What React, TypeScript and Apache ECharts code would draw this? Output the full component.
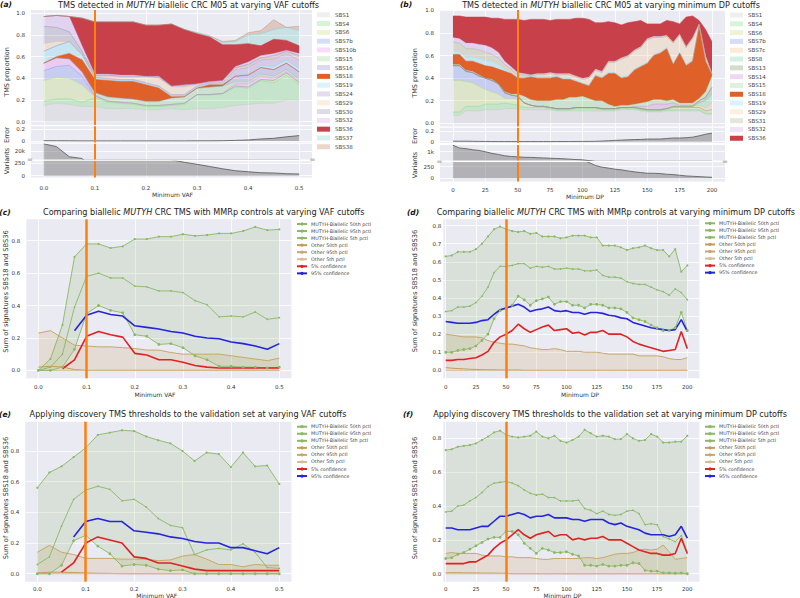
import React, { useEffect, useRef } from 'react';
import * as echarts from 'echarts';

// ---------------- data ----------------
const VAF = [0, 0.025, 0.05, 0.075, 0.1, 0.125, 0.15, 0.175, 0.2, 0.225, 0.25, 0.275, 0.3, 0.325, 0.35, 0.375, 0.4, 0.425, 0.45, 0.475, 0.5];
const DP = [0, 5, 10, 15, 20, 25, 30, 35, 40, 45, 50, 55, 60, 65, 70, 75, 80, 85, 90, 95, 100, 105, 110, 115, 120, 125, 130, 135, 140, 145, 150, 155, 160, 165, 170, 175, 180, 185, 190, 195, 200];
const CUTOFF_VAF = 0.1;
const CUTOFF_DP = 50;

// Panel (a) stacked signature proportions (VAF cutoffs)
const A_SBS1 = [.15, .17, .16, .14, .14, .12, .12, .12, .11, .11, .12, .11, .12, .12, .13, .15, .16, .17, .17, .20, .20];
const A_SBS4 = [.04, .04, .05, .04, .08, .06, .05, .04, .03, .03, .03, .05, .13, .13, .13, .17, .15, .21, .19, .23, .14];
const A_SBS6 = [.19, .20, .19, .16, .01, .01, .01, .01, .01, .01, .01, .01, 0, 0, 0, .01, .01, .01, .02, .02, .02];
const A_SBS7b = [.09, .10, .12, .08, .01, 0, 0, 0, 0, 0, 0, 0, 0, 0, 0, 0, 0, 0, 0, 0, 0];
const A_SBS10b = [.07, .08, .06, .04, .01, 0, 0, 0, 0, 0, 0, 0, 0, 0, 0, .02, .03, .03, .02, .01, .01];
const A_SBS15 = [0, 0, 0, 0, .02, .04, .04, .04, .04, .04, .06, .06, .06, .07, .07, .02, .02, .02, .02, .02, .02];
const A_SBS16 = [0, 0, 0, 0, 0, 0, 0, 0, 0, 0, 0, 0, 0, 0, 0, .05, .06, .06, .06, .06, .07];
const A_SBS18 = [0, .01, .05, .11, .12, .15, .15, .16, .15, .12, .01, 0, 0, .02, .01, 0, 0, 0, 0, 0, 0];
const A_SBS19 = [.11, .10, .11, .05, .01, .01, .01, .01, .01, .01, .01, .01, .01, .01, .01, .01, .01, .02, .03, .03, .03];
const A_SBS24 = [0, 0, 0, 0, .01, .01, .01, .01, .01, .01, .01, .01, .01, .01, .01, .05, .06, .05, .07, .06, .08];
const A_SBS29 = [.07, .04, 0, 0, .01, .02, .02, .02, .05, .07, .07, .07, .01, .01, .01, .01, .01, .01, .01, .01, .02];
const A_SBS30 = [.16, .13, .09, .03, .01, .01, .01, .01, .01, .01, .01, .02, .01, 0, .01, .01, .02, .01, .02, .01, .02];
const A_SBS32 = [.09, .11, .14, .05, .01, .01, .01, .01, 0, .01, 0, 0, 0, 0, 0, .01, .02, .02, .02, .01, .02];
const A_SBS36 = [0, 0, 0, .255, .48, .48, .49, .49, .47, .47, .57, .51, .46, .41, .33, .20, .17, .09, .13, .09, .07];
const A_SBS37 = [0, 0, 0, 0, 0, 0, 0, 0, 0, 0, 0, 0, .01, .01, .02, .03, .08, .11, .09, .12, .14];
const A_SBS38 = [0, 0, 0, 0, 0, 0, 0, 0, 0, 0, 0, 0, 0, 0, .01, .01, .02, .03, .09, 0, .04];
const A_ERROR = [.005, .004, .003, .002, .002, .002, .002, .002, .002, .002, .002, .002, .003, .003, .005, .01, .017, .034, .045, .07, .09];
const A_VARIANTS = [26000, 23550, 14850, 13350, 2000, 1500, 1200, 1000, 800, 600, 320, 270, 230, 185, 140, 100, 80, 60, 55, 40, 35];

// Panel (b) stacked signature proportions (DP cutoffs)
const B_SBS1 = [.07, .07, .11, .11, .11, .12, .12, .12, .13, .13, .13, .12, .12, .12, .12, .12, .11, .11, .11, .11, .11, .11, .11, .11, .11, .11, .12, .12, .12, .11, .10, .10, .10, .11, .11, .11, .11, .11, .11, .08, .08];
const B_SBS4 = [.03, .03, .04, .04, .04, .05, .05, .05, .05, .04, .03, .02, .02, .02, .02, .01, .01, .01, .01, .02, .02, .02, .02, .01, .01, .01, .01, .01, .01, .01, .01, .01, .01, .01, .01, .01, .01, .01, .01, .01, .01];
const B_SBS6 = [.28, .28, .22, .21, .18, .13, .11, .09, .04, .05, .06, .04, .02, .01, .01, .01, .01, .01, .01, .01, .01, .01, .01, .01, .01, .01, .01, .01, .01, .01, .01, .01, .01, .01, .02, .02, .02, .02, .02, .02, .03];
const B_SBS7b = [.13, .13, .09, .09, .09, .10, .10, .09, .05, .03, .02, 0, 0, 0, 0, 0, 0, 0, 0, 0, 0, 0, 0, 0, 0, 0, 0, 0, 0, 0, 0, 0, 0, 0, 0, 0, 0, 0, 0, 0, 0];
const B_SBS7c = [0, 0, 0, 0, 0, 0, 0, 0, 0, 0, 0, 0, 0, 0, 0, 0, 0, 0, 0, 0, 0, 0, 0, 0, 0, 0, 0, 0, 0, 0, 0, 0, 0, 0, .01, .01, .01, .01, .02, .03, .06];
const B_SBS8 = [0, 0, 0, 0, 0, 0, 0, 0, 0, 0, 0, 0, 0, 0, 0, 0, 0, 0, 0, 0, 0, 0, 0, 0, 0, 0, 0, 0, 0, 0, 0, 0, 0, 0, 0, 0, 0, 0, .02, .06, .08];
const B_SBS13 = [0, 0, 0, 0, 0, 0, 0, 0, 0, 0, 0, 0, 0, 0, 0, 0, 0, 0, 0, 0, 0, 0, 0, 0, 0, 0, 0, 0, 0, 0, 0, 0, 0, 0, 0, 0, 0, 0, .02, .03, .06];
const B_SBS14 = [0, 0, 0, 0, 0, 0, 0, 0, 0, 0, 0, 0, 0, 0, 0, 0, 0, 0, 0, 0, 0, 0, 0, 0, 0, 0, 0, 0, .01, .02, .03, .05, .05, .04, .03, .01, .01, .01, 0, 0, 0];
const B_SBS15 = [.01, .01, .01, .01, .01, 0, .01, 0, .01, .01, .02, .06, .05, .05, .05, .06, .08, .08, .10, .09, .10, .08, .06, .07, .04, .02, .02, .02, .02, .03, .04, .04, .04, .03, .03, .02, .02, .02, .02, .05, .10];
const B_SBS18 = [.09, .09, .08, .09, .10, .11, .11, .13, .18, .18, .14, .16, .20, .20, .20, .20, .20, .18, .16, .14, .11, .11, .22, .20, .27, .29, .24, .25, .30, .32, .34, .39, .41, .46, .31, .44, .33, .37, .64, .27, .01];
const B_SBS19 = [.03, .03, .04, .04, .05, .05, .05, .04, .02, .01, .01, .01, .01, .01, .01, .01, .01, .01, .01, .01, .01, .01, .01, .01, .01, .01, .01, .01, .01, .01, .01, .01, .01, .01, .01, .01, .01, .01, 0, .01, 0];
const B_SBS29 = [.01, .01, .01, .01, .01, .01, .01, .01, .01, .01, .01, .01, 0, .02, .02, .03, .01, .03, .03, .03, .03, .06, .04, .04, .09, .09, .16, .17, .16, .16, .20, .15, .13, .10, .18, .15, .15, .19, .02, .03, .01];
const B_SBS31 = [.07, .06, .06, .06, .06, .06, .05, .05, .03, .02, .01, .01, 0, 0, 0, 0, 0, 0, 0, 0, 0, 0, 0, 0, 0, 0, 0, 0, 0, 0, 0, 0, 0, 0, 0, 0, 0, 0, 0, 0, 0];
const B_SBS32 = [.04, .04, .05, .05, .05, .06, .06, .05, .03, .02, .02, .01, .01, .01, .01, .01, .01, .01, .01, .01, .01, .01, .01, .01, .01, .01, .01, .01, .01, .01, .01, .01, .01, .01, .01, .01, .01, .01, 0, .01, 0];
const B_SBS36 = [.19, .20, .23, .23, .24, .25, .26, .30, .37, .42, .47, .47, .49, .48, .48, .46, .48, .48, .48, .51, .53, .51, .41, .43, .35, .34, .29, .29, .25, .23, .13, .11, .11, .13, .18, .09, .26, .19, .03, .23, .28];
const B_ERROR = [.01, .01, .01, .008, .006, .005, .004, .003, .003, .003, .003, .003, .003, .003, .003, .003, .004, .004, .004, .005, .005, .006, .008, .012, .018, .025, .03, .035, .04, .042, .05, .05, .05, .06, .07, .07, .075, .085, .11, .14, .16];
const B_VARIANTS = [1480, 1280, 1230, 1150, 1100, 1000, 880, 800, 700, 650, 620, 590, 580, 560, 540, 520, 500, 480, 450, 420, 400, 340, 277, 240, 220, 197, 182, 160, 139, 124, 109, 109, 102, 88, 80, 66, 51, 44, 36, 29, 22];

// Panel (c)
const C_M50 = [0, 0.02, 0.10, 0.39, 0.58, 0.60, 0.57, 0.57, 0.52, 0.515, 0.49, 0.49, 0.48, 0.43, 0.405, 0.33, 0.335, 0.33, 0.36, 0.315, 0.325];
const C_M95 = [0, 0.07, 0.28, 0.70, 0.78, 0.78, 0.755, 0.765, 0.81, 0.81, 0.825, 0.825, 0.84, 0.83, 0.835, 0.845, 0.845, 0.86, 0.885, 0.865, 0.87];
const C_M5 = [0, 0, 0.02, 0.13, 0.35, 0.40, 0.37, 0.355, 0.22, 0.21, 0.16, 0.165, 0.14, 0.09, 0.065, 0.025, 0.025, 0.02, 0.02, 0.015, 0.02];
const C_O50 = [0.02, 0.025, 0.02, 0.005, 0, 0, 0, 0, 0, 0, 0, 0, 0, 0, 0, 0, 0, 0, 0, 0, 0];
const C_O95 = [0.23, 0.245, 0.2, 0.155, 0.15, 0.145, 0.145, 0.14, 0.135, 0.125, 0.125, 0.11, 0.1, 0.1, 0.1, 0.1, 0.09, 0.08, 0.07, 0.06, 0.075];
const C_O5 = [0, 0, 0, 0, 0, 0, 0, 0, 0, 0, 0, 0, 0, 0, 0, 0, 0, 0, 0, 0, 0];
const C_CONF5 = [null, null, 0.01, 0.065, 0.21, 0.24, 0.22, 0.205, 0.105, 0.095, 0.065, 0.065, 0.05, 0.03, 0.02, 0.015, 0.015, 0.015, 0.015, 0.015, 0.015];
const C_CONF95 = [null, null, null, 0.245, 0.34, 0.365, 0.345, 0.335, 0.275, 0.265, 0.255, 0.24, 0.23, 0.21, 0.2, 0.195, 0.175, 0.165, 0.15, 0.13, 0.165];

// Panel (d)
const D_M50 = [.325, .33, .35, .35, .355, .375, .41, .46, .54, .575, .575, .58, .59, .59, .565, .575, .57, .575, .56, .56, .565, .56, .56, .55, .55, .555, .525, .515, .515, .51, .49, .48, .475, .475, .46, .445, .435, .415, .45, .43, .39];
const D_M95 = [.63, .635, .655, .655, .655, .67, .70, .74, .78, .795, .78, .77, .765, .77, .755, .76, .74, .74, .74, .73, .735, .745, .745, .745, .735, .735, .69, .69, .69, .68, .665, .675, .68, .69, .675, .665, .665, .63, .67, .545, .58];
const D_M5 = [.10, .10, .11, .115, .12, .135, .165, .20, .285, .33, .34, .36, .41, .39, .36, .385, .395, .405, .365, .38, .38, .36, .36, .345, .365, .365, .36, .345, .345, .34, .32, .29, .28, .27, .25, .235, .22, .22, .235, .32, .22];
const D_O50 = [.015, .012, .01, .008, .006, .005, .004, .003, .003, .002, .002, .002, .002, 0, 0, 0, 0, 0, 0, 0, 0, 0, 0, 0, 0, 0, 0, 0, 0, 0, 0, 0, 0, 0, 0, 0, 0, 0, 0, 0, 0];
const D_O95 = [.20, .195, .19, .185, .185, .185, .18, .165, .155, .15, .145, .145, .14, .135, .125, .12, .115, .115, .12, .115, .105, .105, .105, .10, .10, .10, .095, .09, .09, .09, .09, .09, .08, .08, .08, .08, .075, .065, .06, .06, .07];
const D_O5 = [0, 0, 0, 0, 0, 0, 0, 0, 0, 0, 0, 0, 0, 0, 0, 0, 0, 0, 0, 0, 0, 0, 0, 0, 0, 0, 0, 0, 0, 0, 0, 0, 0, 0, 0, 0, 0, 0, 0, 0, 0];
const D_CONF5 = [.055, .055, .06, .06, .065, .07, .085, .105, .155, .185, .20, .22, .255, .23, .21, .225, .24, .25, .22, .225, .23, .205, .21, .195, .21, .21, .22, .20, .20, .20, .185, .16, .145, .135, .125, .115, .105, .11, .115, .215, .12];
const D_CONF95 = [.27, .265, .26, .26, .26, .265, .275, .28, .31, .335, .345, .355, .365, .35, .325, .335, .34, .35, .33, .325, .33, .32, .32, .31, .32, .32, .315, .305, .30, .29, .285, .265, .255, .245, .235, .23, .225, .22, .225, .28, .215];

// Panel (e)
const E_M50 = [.06, .11, .31, .485, .545, .57, .55, .475, .485, .435, .36, .315, .30, .125, .155, .165, .155, .195, .14, .04, .035];
const E_M95 = [.56, .66, .70, .76, .82, .905, .92, .935, .93, .895, .87, .85, .80, .735, .79, .78, .695, .79, .70, .705, .585];
const E_M5 = [0, 0, .055, .215, .25, .18, .13, .05, .06, .055, .03, .02, .025, 0, 0, 0, 0, 0, 0, 0, 0];
const E_O50 = [.005, .01, .01, .008, .005, .003, .002, 0, 0, 0, 0, 0, 0, 0, 0, 0, 0, 0, 0, 0, 0];
const E_O95 = [.14, .185, .14, .125, .10, .10, .10, .095, .095, .095, .085, .09, .115, .125, .095, .06, .06, .045, .06, .055, .055];
const E_O5 = [0, 0, 0, 0, 0, 0, 0, 0, 0, 0, 0, 0, 0, 0, 0, 0, 0, 0, 0, 0, 0];
const E_CONF5 = [null, null, .01, .07, .20, .24, .22, .20, .11, .10, .07, .07, .05, .03, .02, .02, .02, .02, .02, .02, .02];
const E_CONF95 = [null, null, null, .24, .34, .36, .34, .34, .28, .27, .26, .24, .23, .21, .2, .2, .17, .17, .15, .13, .17];

// Panel (f)
const F_M50 = [.365, .37, .40, .405, .43, .45, .48, .515, .535, .54, .545, .535, .52, .495, .475, .465, .47, .45, .45, .43, .43, .43, .435, .385, .375, .355, .37, .35, .345, .35, .37, .375, .355, .29, .295, .29, .22, .205, .19, .225, .12];
const F_M95 = [.73, .735, .75, .755, .76, .77, .79, .81, .835, .845, .82, .81, .805, .81, .815, .84, .81, .80, .815, .785, .775, .79, .81, .85, .83, .81, .815, .81, .795, .795, .825, .80, .785, .79, .825, .81, .775, .775, .78, .78, .815];
const F_M5 = [.09, .095, .115, .125, .145, .165, .185, .205, .215, .215, .25, .25, .23, .18, .15, .12, .15, .14, .125, .125, .13, .115, .105, .05, .05, .045, .055, .045, .045, .05, .05, .065, .06, .02, .015, .015, .005, .005, .003, .005, 0];
const F_O50 = [.005, .006, .006, .005, .005, .005, .004, .004, .004, .003, .003, 0, 0, 0, 0, 0, 0, 0, 0, 0, 0, 0, 0, 0, 0, 0, 0, 0, 0, 0, 0, 0, 0, 0, 0, 0, 0, 0, 0, 0, 0];
const F_O95 = [.12, .125, .12, .12, .12, .12, .11, .105, .105, .105, .10, .10, .095, .095, .095, .09, .085, .085, .09, .09, .09, .09, .09, .095, .095, .09, .095, .105, .115, .12, .12, .125, .14, .145, .14, .145, .17, .13, .085, .09, .095];
const F_O5 = [0, 0, 0, 0, 0, 0, 0, 0, 0, 0, 0, 0, 0, 0, 0, 0, 0, 0, 0, 0, 0, 0, 0, 0, 0, 0, 0, 0, 0, 0, 0, 0, 0, 0, 0, 0, 0, 0, 0, 0, 0];
const F_CONF5 = [.06, .06, .06, .06, .07, .07, .09, .11, .15, .18, .20, .23, .26, .23, .21, .23, .24, .25, .22, .23, .23, .20, .21, .20, .21, .21, .22, .20, .20, .20, .18, .16, .14, .13, .12, .12, .11, .11, .12, .21, .12];
const F_CONF95 = [.27, .27, .26, .26, .26, .27, .28, .28, .31, .34, .34, .35, .36, .35, .33, .34, .34, .35, .33, .33, .33, .32, .32, .31, .32, .32, .32, .30, .29, .30, .28, .27, .26, .24, .23, .23, .23, .22, .23, .28, .21];

// tick labels
const TICKS_PROP = [0, 0.2, 0.4, 0.6, 0.8, 1.0];
const TICKS_ERR = [0, 0.2];
const TICKS_VAR_A_UP = [20000];
const TICKS_VAR_B_UP = [1000];
const TICKS_VAR_LOW = [0, 250];
const TICKS_VAF = [0, 0.1, 0.2, 0.3, 0.4, 0.5];
const TICKS_DP = [0, 25, 50, 75, 100, 125, 150, 175, 200];
const TICKS_SUM = [0, 0.2, 0.4, 0.6, 0.8];
const TICKS_SUM_D = [0, 0.1, 0.2, 0.3, 0.4, 0.5, 0.6, 0.7, 0.8];

const LEGEND_LINES = ['MUTYH-Biallelic 50th pctl', 'MUTYH-Biallelic 95th pctl', 'MUTYH-Biallelic 5th pctl', 'Other 50th pctl', 'Other 95th pctl', 'Other 5th pctl', '5% confidence', '95% confidence'];

// ---------------- styles ----------------
const F = 'DejaVu Sans';
const TXT = '#333333';
const BG = '#EAEAF2';
const ORANGE = '#ff7f0e';
const GREEN = '#8ab864';
const RED = '#e02222';
const BLUE = '#2424dc';

const SIG_BASE: Record<string, [string, number]> = {
  SBS1: ['#c0c0c0', 0.25], SBS4: ['#5ad25a', 0.25], SBS6: ['#b4d250', 0.25], SBS7b: ['#5a78f0', 0.25],
  SBS7c: ['#e6b45a', 0.25], SBS8: ['#50c882', 0.25], SBS10b: ['#f06ee6', 0.25], SBS13: ['#6e8c5a', 0.3],
  SBS14: ['#c864c8', 0.25], SBS15: ['#78c86e', 0.25], SBS16: ['#7864c8', 0.25], SBS18: ['#e0602a', 1],
  SBS19: ['#64d2eb', 0.25], SBS24: ['#966ebe', 0.25], SBS29: ['#f0be82', 0.25], SBS30: ['#786e96', 0.25],
  SBS31: ['#96a064', 0.25], SBS32: ['#c88ce6', 0.25], SBS36: ['#c8404a', 1], SBS37: ['#64c8be', 0.25],
  SBS38: ['#be7850', 0.3],
};

function rgba(hex: string, a: number) {
  const n = parseInt(hex.slice(1), 16);
  return `rgba(${(n >> 16) & 255},${(n >> 8) & 255},${n & 255},${a})`;
}

// data points are stored as [y, x] and mapped with encode so that stacking runs along y
const ENC = { x: 1, y: 0 };
const pairs = (xs: number[], ys: (number | null)[]) =>
  xs.map((x, i) => [ys[i], x]).filter((p) => p[0] !== null);

function valAxis(gridIndex: number, min: number, max: number, ticks: number[], show: boolean, fmt: any, margin: number) {
  return {
    type: 'value', gridIndex, min, max,
    axisLine: { show: false },
    axisTick: { show: false, customValues: ticks },
    axisLabel: { show, customValues: ticks, formatter: fmt, fontSize: 5.5, color: TXT, fontFamily: F, margin },
    splitLine: { show: true, lineStyle: { color: '#ffffff', width: 0.8 } },
  };
}

const f1 = (v: number) => v.toFixed(1);
const fInt = (v: number) => String(Math.round(v));
const fErr = (v: number) => (v === 0 ? '0' : v.toFixed(1));
const fK = (v: number) => Math.round(v / 1000) + 'k';

function stackSeries(gi: number, xs: number[], names: string[], vals: number[][], stack: string) {
  return names.map((name, k) => {
    const [hex, a] = SIG_BASE[name];
    const fill = a >= 1 ? hex : rgba(hex, a);
    return {
      name, type: 'line', xAxisIndex: gi, yAxisIndex: gi, stack, symbol: 'none', silent: true,
      encode: ENC,
      data: pairs(xs, vals[k]),
      lineStyle: { width: 0.6, color: a >= 1 ? hex : rgba(hex, Math.min(1, a * 2)) },
      itemStyle: { color: fill },
      areaStyle: { color: fill, opacity: 1 },
      emphasis: { disabled: true },
    };
  });
}

function greySeries(gi: number, xs: number[], vals: number[], origin: string) {
  return {
    type: 'line', xAxisIndex: gi, yAxisIndex: gi, symbol: 'none', silent: true, clip: true,
    encode: ENC,
    data: pairs(xs, vals),
    lineStyle: { width: 0.8, color: '#555555' },
    areaStyle: { color: 'rgba(100,100,100,0.6)', origin },
    emphasis: { disabled: true },
  };
}

function cutoffSeries(gi: number, cutoff: number, width: number) {
  return {
    type: 'line', xAxisIndex: gi, yAxisIndex: gi, data: [], z: 10, silent: true,
    markLine: {
      silent: true, symbol: ['none', 'none'], label: { show: false }, animation: false,
      lineStyle: { color: ORANGE, width, type: 'solid', opacity: 1 },
      emphasis: { disabled: true },
      data: [{ xAxis: cutoff }],
    },
  };
}

function linePanel(gi: number, xs: number[], m50: number[], m95: number[], m5: number[], o50: number[], o95: number[], o5: number[], c5: (number | null)[], c95: (number | null)[]) {
  const band = (hi: number[], lo: number[]) => hi.map((h, i) => h - lo[i]);
  const base = { type: 'line', xAxisIndex: gi, yAxisIndex: gi, silent: true, encode: ENC, emphasis: { disabled: true } };
  const hidden = { symbol: 'none', lineStyle: { width: 0, opacity: 0 } };
  const ln = (name: string, arr: any[], color: string, width: number, sym: number) => ({
    ...base, name, data: pairs(xs, arr), color,
    lineStyle: { color, width },
    itemStyle: { color },
    symbol: sym > 0 ? 'circle' : 'none', symbolSize: sym, showSymbol: sym > 0,
  });
  return [
    { ...base, ...hidden, stack: 'o' + gi, data: pairs(xs, o5) },
    { ...base, ...hidden, stack: 'o' + gi, data: pairs(xs, band(o95, o5)), areaStyle: { color: 'rgba(201,165,106,0.3)' } },
    { ...base, ...hidden, stack: 'g' + gi, data: pairs(xs, m5) },
    { ...base, ...hidden, stack: 'g' + gi, data: pairs(xs, band(m95, m5)), areaStyle: { color: 'rgba(138,184,100,0.25)' } },
    ln('Other 50th pctl', o50, '#c49b5c', 1, 0),
    ln('Other 95th pctl', o95, '#c9a66b', 1, 0),
    ln('Other 5th pctl', o5, '#d6bb94', 1, 0),
    ln('MUTYH-Biallelic 50th pctl', m50, GREEN, 0.9, 1.6),
    ln('MUTYH-Biallelic 95th pctl', m95, GREEN, 0.9, 2.2),
    ln('MUTYH-Biallelic 5th pctl', m5, GREEN, 0.9, 2.8),
    ln('5% confidence', c5, RED, 1.6, 0),
    ln('95% confidence', c95, BLUE, 1.6, 0),
  ];
}

function txt(x: number, y: number, text: string, size: number, extra: any = {}, rot = 0) {
  return {
    type: 'text', x, y, rotation: rot, silent: true,
    style: {
      text, fontSize: size, fontFamily: F, fill: extra.fill || TXT,
      align: extra.align || 'center', verticalAlign: 'middle',
      textAlign: extra.align || 'center', textVerticalAlign: 'middle',
      fontWeight: extra.fontWeight || 'normal', fontStyle: extra.fontStyle || 'normal',
      rich: extra.rich,
    },
  };
}

const TITLE_SIZE = 8.1;
function titleTxt(x: number, y: number, pre: string, ital: string, post: string, align = 'center') {
  const st = { fontSize: TITLE_SIZE, fontFamily: F, fill: '#222222' };
  return txt(x, y, `{n|${pre}}{i|${ital}}{n|${post}}`, TITLE_SIZE, {
    align,
    rich: { n: { ...st }, i: { ...st, fontStyle: 'italic' } },
  });
}

export default function App() {
  const ref = useRef<HTMLDivElement>(null);
  useEffect(() => {
    document.body.style.margin = '0';
    const chart = echarts.init(ref.current!, null, { renderer: 'svg' });

    const SIGS_A = ['SBS1', 'SBS4', 'SBS6', 'SBS7b', 'SBS10b', 'SBS15', 'SBS16', 'SBS18', 'SBS19', 'SBS24', 'SBS29', 'SBS30', 'SBS32', 'SBS36', 'SBS37', 'SBS38'];
    const VALS_A = [A_SBS1, A_SBS4, A_SBS6, A_SBS7b, A_SBS10b, A_SBS15, A_SBS16, A_SBS18, A_SBS19, A_SBS24, A_SBS29, A_SBS30, A_SBS32, A_SBS36, A_SBS37, A_SBS38];
    const SIGS_B = ['SBS1', 'SBS4', 'SBS6', 'SBS7b', 'SBS7c', 'SBS8', 'SBS13', 'SBS14', 'SBS15', 'SBS18', 'SBS19', 'SBS29', 'SBS31', 'SBS32', 'SBS36'];
    const VALS_B = [B_SBS1, B_SBS4, B_SBS6, B_SBS7b, B_SBS7c, B_SBS8, B_SBS13, B_SBS14, B_SBS15, B_SBS18, B_SBS19, B_SBS29, B_SBS31, B_SBS32, B_SBS36];

    const grids = [
      [31, 10, 281, 115], [31, 126.3, 281, 16.2], [31, 143.8, 281, 15.8], [31, 161.2, 281, 16.3],
      [440, 10, 285, 116.5], [440, 127.7, 285, 15.3], [440, 145, 285, 15.5], [440, 162.3, 285, 19.3],
      [26.3, 219.3, 265.1, 159], [443.3, 219.3, 256.1, 159], [25.2, 421.7, 266.2, 160], [443.3, 421.7, 256.1, 160],
    ].map(([left, top, width, height]) => ({ left, top, width, height, show: true, backgroundColor: BG, borderWidth: 0, outerBoundsMode: 'none', containLabel: false }));

    const xAxis = [
      valAxis(0, -0.025, 0.525, TICKS_VAF, false, f1, 7),
      valAxis(1, -0.025, 0.525, TICKS_VAF, false, f1, 7),
      valAxis(2, -0.025, 0.525, TICKS_VAF, false, f1, 7),
      valAxis(3, -0.025, 0.525, TICKS_VAF, true, f1, 7),
      valAxis(4, -10, 210, TICKS_DP, false, fInt, 5),
      valAxis(5, -10, 210, TICKS_DP, false, fInt, 5),
      valAxis(6, -10, 210, TICKS_DP, false, fInt, 5),
      valAxis(7, -10, 210, TICKS_DP, true, fInt, 5),
      valAxis(8, -0.025, 0.525, TICKS_VAF, true, f1, 5.5),
      valAxis(9, -2, 210, TICKS_DP, true, fInt, 5.5),
      valAxis(10, -0.025, 0.525, TICKS_VAF, true, f1, 4.5),
      valAxis(11, -2, 210, TICKS_DP, true, fInt, 4.5),
    ];
    const yAxis = [
      valAxis(0, -0.03, 1.03, TICKS_PROP, true, f1, 6),
      valAxis(1, -0.025, 0.245, TICKS_ERR, true, fErr, 6),
      valAxis(2, 12400, 26000, TICKS_VAR_A_UP, true, fK, 6),
      valAxis(3, -36, 292, TICKS_VAR_LOW, true, fInt, 6),
      valAxis(4, -0.028, 1.003, TICKS_PROP, true, f1, 6),
      valAxis(5, -0.024, 0.262, TICKS_ERR, true, fErr, 6),
      valAxis(6, 350, 1500, TICKS_VAR_B_UP, true, fK, 6),
      valAxis(7, -71, 345, TICKS_VAR_LOW, true, fInt, 6),
      valAxis(8, -0.049, 0.932, TICKS_SUM, true, f1, 6),
      valAxis(9, -0.044, 0.835, TICKS_SUM_D, true, f1, 2),
      valAxis(10, -0.052, 0.991, TICKS_SUM, true, f1, 6),
      valAxis(11, -0.047, 0.898, TICKS_SUM, true, f1, 2),
    ];

    const series: any[] = [
      ...stackSeries(0, VAF, SIGS_A, VALS_A, 'sa'),
      greySeries(1, VAF, A_ERROR, 'auto'),
      greySeries(2, VAF, A_VARIANTS, 'start'),
      greySeries(3, VAF, A_VARIANTS, 'auto'),
      ...stackSeries(4, DP, SIGS_B, VALS_B, 'sb'),
      greySeries(5, DP, B_ERROR, 'auto'),
      greySeries(6, DP, B_VARIANTS, 'start'),
      greySeries(7, DP, B_VARIANTS, 'auto'),
      ...linePanel(8, VAF, C_M50, C_M95, C_M5, C_O50, C_O95, C_O5, C_CONF5, C_CONF95),
      ...linePanel(9, DP, D_M50, D_M95, D_M5, D_O50, D_O95, D_O5, D_CONF5, D_CONF95),
      ...linePanel(10, VAF, E_M50, E_M95, E_M5, E_O50, E_O95, E_O5, E_CONF5, E_CONF95),
      ...linePanel(11, DP, F_M50, F_M95, F_M5, F_O50, F_O95, F_O5, F_CONF5, F_CONF95),
    ];
    [0, 1, 2, 3].forEach((g) => series.push(cutoffSeries(g, CUTOFF_VAF, 2)));
    [4, 5, 6, 7].forEach((g) => series.push(cutoffSeries(g, CUTOFF_DP, 2)));
    series.push(cutoffSeries(8, CUTOFF_VAF, 2.5));
    series.push(cutoffSeries(9, CUTOFF_DP, 2.5));
    series.push(cutoffSeries(10, CUTOFF_VAF, 2.5));
    series.push(cutoffSeries(11, CUTOFF_DP, 2.5));

    const sigLegend = (left: number, top: number, data: string[]) => ({
      show: true, orient: 'vertical', left, top, data, icon: 'rect', itemWidth: 13, itemHeight: 5, itemGap: 2.3,
      selectedMode: false, padding: 0,
      itemStyle: { borderWidth: 0 },
      textStyle: { fontSize: 5.5, lineHeight: 6.5, color: '#444444', fontFamily: F },
    });
    const lineLegend = (left: number, top: number) => ({
      show: true, orient: 'vertical', left, top, data: LEGEND_LINES, itemWidth: 10, itemHeight: 4, itemGap: 2.05,
      selectedMode: false, padding: 0,
      textStyle: { fontSize: 4.8, lineHeight: 5, color: '#444444', fontFamily: F, padding: [0, 0, 0, -1] },
    });

    const vlab = (x: number, y: number, t: string, s = 6.5) => txt(x, y, t, s, {}, Math.PI / 2);
    const letter = { fontWeight: 'bold', fontStyle: 'italic', fill: '#111' };
    const graphic = [
      txt(6, 4.5, '(a)', 7.5, letter),
      txt(406, 4.5, '(b)', 7.5, letter),
      txt(5, 212, '(c)', 7.5, letter),
      txt(413, 212, '(d)', 7.5, letter),
      txt(5, 414.5, '(e)', 7.5, letter),
      txt(408, 414.5, '(f)', 7.5, letter),
      titleTxt(188.5, 4.5, 'TMS detected in ', 'MUTYH', ' biallelic CRC M05 at varying VAF cutoffs'),
      titleTxt(611, 4.5, 'TMS detected in ', 'MUTYH', ' biallelic CRC M05 at varying minimum DP cutoffs'),
      titleTxt(203.7, 211.7, 'Comparing biallelic ', 'MUTYH', ' CRC TMS with MMRp controls at varying VAF cutoffs'),
      titleTxt(436.7, 211.7, 'Comparing biallelic ', 'MUTYH', ' CRC TMS with MMRp controls at varying minimum DP cutoffs', 'left'),
      txt(188, 414.3, 'Applying discovery TMS thresholds to the validation set at varying VAF cutoffs', TITLE_SIZE, { fill: '#222222' }),
      txt(610, 414.3, 'Applying discovery TMS thresholds to the validation set at varying minimum DP cutoffs', TITLE_SIZE, { fill: '#222222' }),
      vlab(7, 72, 'TMS proportion'), vlab(7, 135, 'Error'), vlab(7, 161, 'Variants'),
      vlab(415, 73, 'TMS proportion'), vlab(415, 136, 'Error'), vlab(415, 165, 'Variants'),
      vlab(6, 291.5, 'Sum of signatures SBS18 and SBS36', 6.7), vlab(415, 291, 'Sum of signatures SBS18 and SBS36', 6.7),
      vlab(6, 498, 'Sum of signatures SBS18 and SBS36', 6.7), vlab(415, 498, 'Sum of signatures SBS18 and SBS36', 6.7),
      txt(172.5, 194.7, 'Minimum VAF', 6), txt(585, 196, 'Minimum DP', 6),
      txt(155, 394, 'Minimum VAF', 6), txt(580, 394, 'Minimum DP', 6),
      txt(156.7, 595.3, 'Minimum VAF', 6), txt(562.5, 595.3, 'Minimum DP', 6),
      txt(30, 160, '=', 7, { fill: '#999999' }), txt(312.5, 160, '=', 7, { fill: '#999999' }),
      txt(439.5, 161.5, '=', 7, { fill: '#999999' }), txt(725, 161.5, '=', 7, { fill: '#999999' }),
    ];

    chart.setOption({
      animation: false,
      backgroundColor: '#ffffff',
      textStyle: { fontFamily: F },
      grid: grids,
      xAxis, yAxis, series,
      legend: [
        sigLegend(317, 11.5, SIGS_A),
        sigLegend(730, 11.8, SIGS_B),
        lineLegend(296, 221.5),
        lineLegend(704, 220.8),
        lineLegend(296, 424.2),
        lineLegend(704, 424.2),
      ],
      graphic,
    });
    return () => chart.dispose();
  }, []);
  return <div ref={ref} style={{ width: 800, height: 598 }} />;
}
